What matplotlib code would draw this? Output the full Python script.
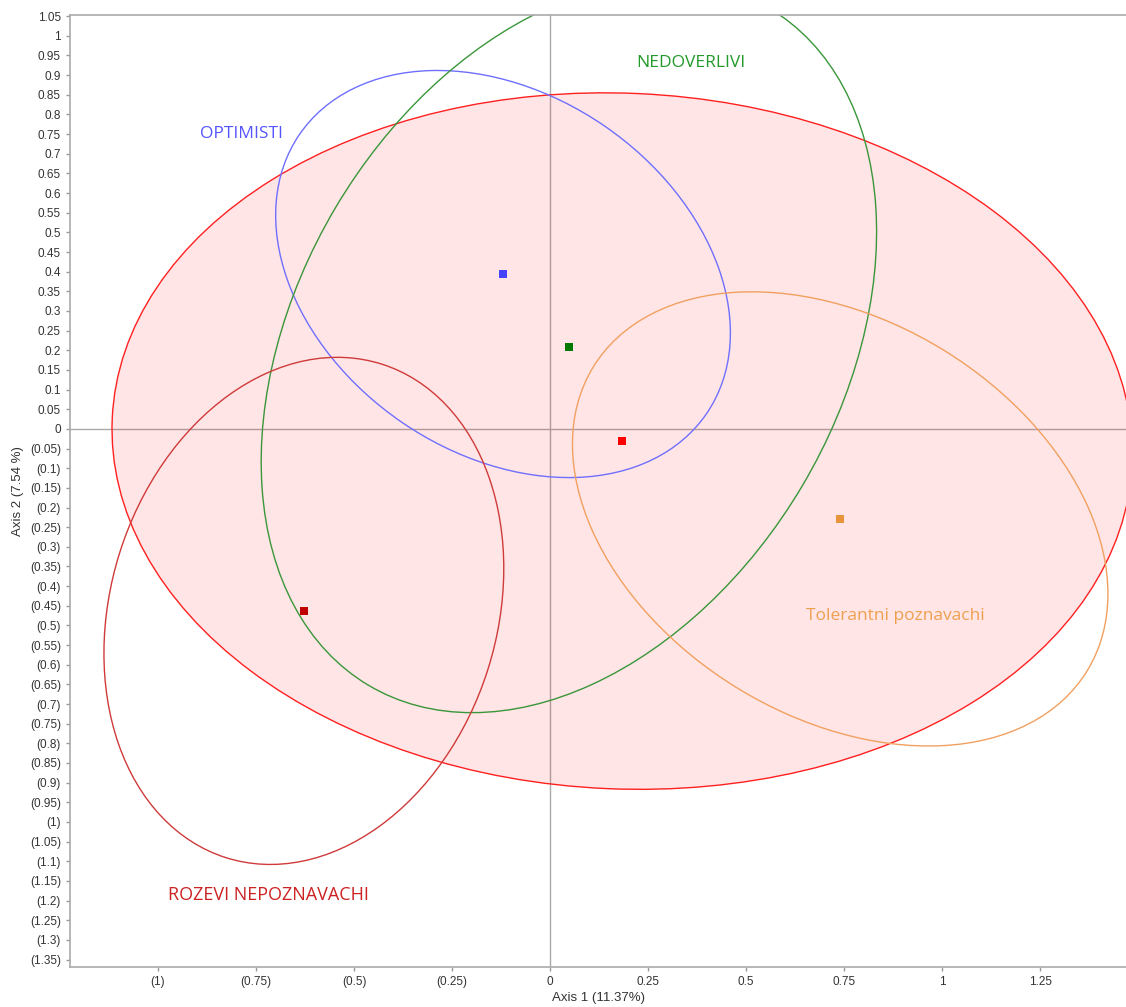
import numpy as np
import matplotlib
matplotlib.use("Agg")
import matplotlib.pyplot as plt
from matplotlib.patches import Ellipse

# group centroids (axis 1, axis 2)
groups = ["Total", "OPTIMISTI", "NEDOVERLIVI", "Tolerantni poznavachi", "ROZEVI NEPOZNAVACHI"]
cx = [0.184, -0.120, 0.048, 0.740, -0.628]
cy = [-0.031, 0.394, 0.209, -0.229, -0.463]

# confidence ellipses: full width, full height, angle (deg)
ell_w = [2.604, 1.258, 2.003, 1.478, 1.317]
ell_h = [1.770, 0.914, 1.385, 1.008, 0.985]
ell_ang = [-2.5, -34.3, 59.3, -31.5, 72.4]

# label positions for the named groups
lab_x = [-0.786, 0.36, 0.88, -0.719]
lab_y = [0.751, 0.931, -0.476, -1.186]

pt_colors = ["#ff0000", "#4444ff", "#007a00", "#e8943a", "#c00000"]
edge_colors = ["#ff2020", "#6f6fff", "#3a963a", "#f2a060", "#d03a3a"]
lab_colors = ["#5555ff", "#22992a", "#eea050", "#cc2222"]

x_ticks = [-1, -0.75, -0.5, -0.25, 0, 0.25, 0.5, 0.75, 1, 1.25]
y_ticks = np.round(np.arange(-1.35, 1.0501, 0.05), 2)


def fmt(v):
    s = ("%.2f" % abs(v)).rstrip("0").rstrip(".")
    if abs(v) < 1e-9:
        return "0"
    return "(%s)" % s if v < 0 else s


fig = plt.figure(figsize=(11.26, 10.07), dpi=100)
ax = fig.add_axes([70 / 1126, 1 - 967 / 1007, 1 - 70 / 1126, (967 - 15) / 1007])

ax.axhline(0, color="#aaaaaa", lw=1, zorder=0)
ax.axvline(0, color="#aaaaaa", lw=1, zorder=0)

for i in range(len(groups)):
    fill = i == 0
    e = Ellipse((cx[i], cy[i]), ell_w[i], ell_h[i], angle=ell_ang[i],
                facecolor=(1, 0, 0, 0.1) if fill else "none",
                edgecolor=edge_colors[i], lw=1.0, zorder=1 if fill else 2)
    ax.add_patch(e)
    ax.scatter(cx[i], cy[i], marker="s", s=28, color=pt_colors[i], zorder=3, linewidths=0)

for j in range(4):
    ax.text(lab_x[j], lab_y[j], groups[j + 1], color=lab_colors[j],
            fontsize=13 if j == 3 else 12.5,
            family="Open Sans", ha="center", va="center")

ax.set_xlim(-1.2245, 1.469)
ax.set_ylim(-1.369, 1.053)
ax.set_xticks(x_ticks)
ax.set_xticklabels([fmt(v) for v in x_ticks])
ax.set_yticks(y_ticks)
ax.set_yticklabels([fmt(v) for v in y_ticks])
ax.tick_params(labelsize=8.5, colors="#999999", labelcolor="#333333", length=3, width=1)
for lab in ax.get_xticklabels() + ax.get_yticklabels():
    lab.set_family("Liberation Sans")

for s in ["left", "bottom", "top"]:
    ax.spines[s].set_color("#aaaaaa")
    ax.spines[s].set_linewidth(1.2)
ax.spines["right"].set_visible(False)

ax.set_xlabel("Axis 1 (11.37%)", fontsize=9.5, family="Liberation Sans", color="#333333", labelpad=3)
ax.set_ylabel("Axis 2 (7.54 %)", fontsize=9.5, family="Liberation Sans", color="#333333", labelpad=4)

fig.savefig("out.png", dpi=100)
